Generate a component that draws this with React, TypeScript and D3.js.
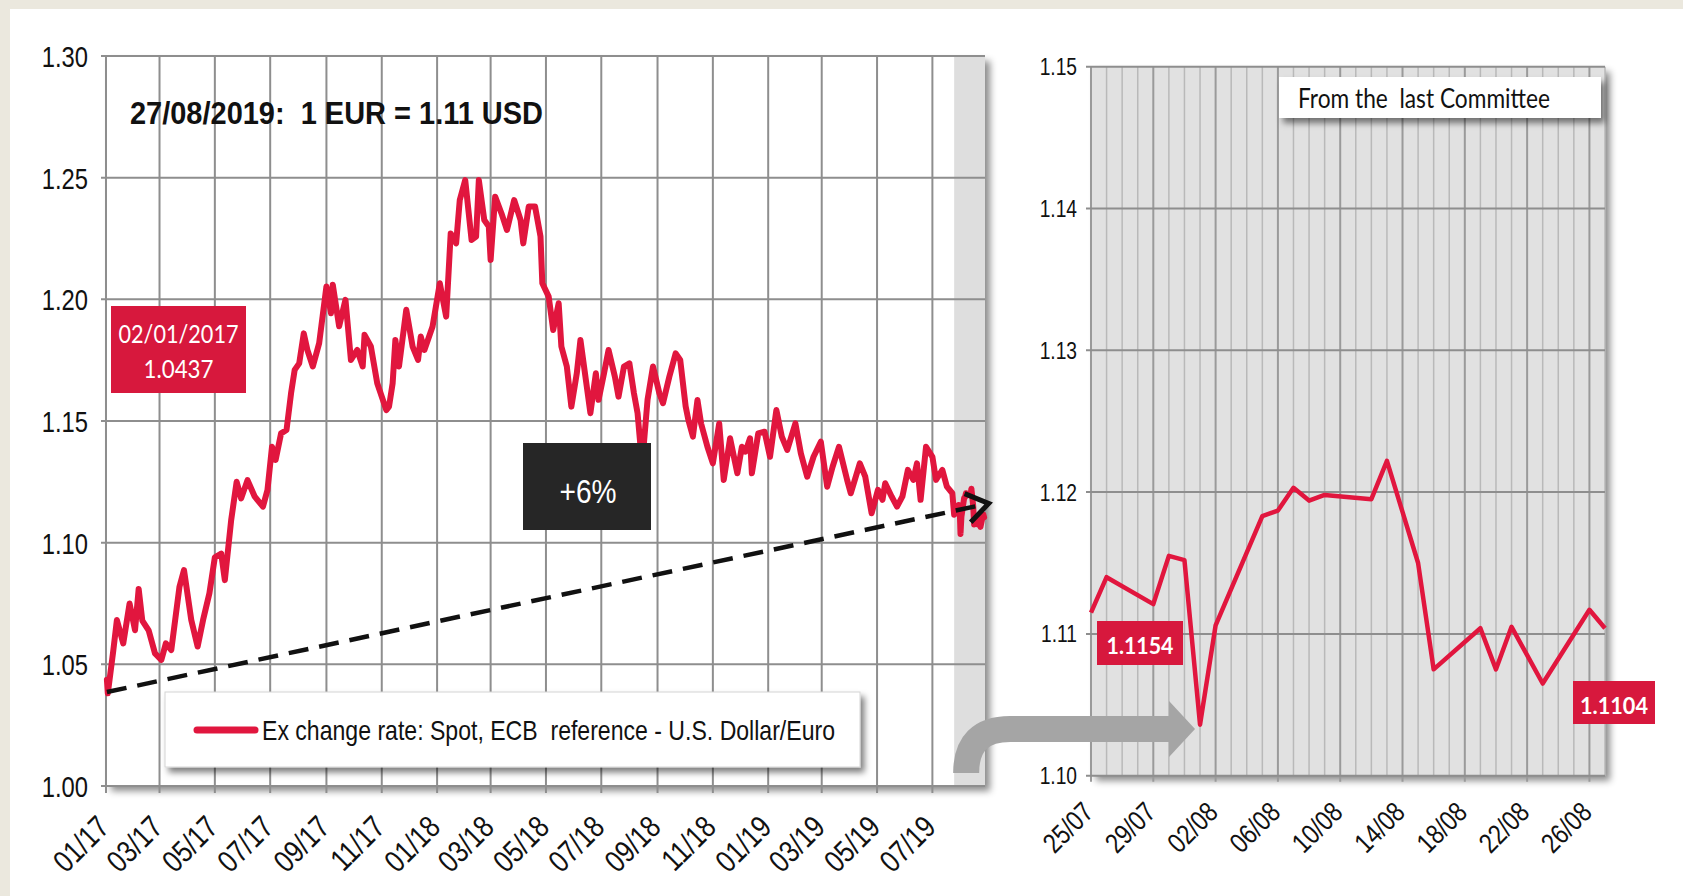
import React, { useEffect } from 'react';
import * as d3 from 'd3';

const W = 1683;
const H = 896;
const parse = d3.timeParse('%Y-%m-%d');

// ---- Left chart: EUR/USD spot (ECB reference) ----
const spotDates = [
  '2017-01-02','2017-01-03','2017-01-09','2017-01-13','2017-01-20','2017-01-27','2017-02-02','2017-02-06','2017-02-10','2017-02-17',
  '2017-02-24','2017-03-03','2017-03-08','2017-03-14','2017-03-23','2017-03-28','2017-04-05','2017-04-12','2017-04-18','2017-04-25',
  '2017-05-01','2017-05-08','2017-05-12','2017-05-19','2017-05-25','2017-05-30','2017-06-06','2017-06-14','2017-06-23','2017-06-28',
  '2017-07-03','2017-07-07','2017-07-13','2017-07-19','2017-07-24','2017-07-28','2017-08-02','2017-08-07','2017-08-11','2017-08-17',
  '2017-08-24','2017-09-01','2017-09-06','2017-09-08','2017-09-15','2017-09-22','2017-09-28','2017-10-05','2017-10-11','2017-10-13',
  '2017-10-20','2017-10-27','2017-11-06','2017-11-09','2017-11-13','2017-11-16','2017-11-20','2017-11-28','2017-12-05','2017-12-11',
  '2017-12-14','2017-12-18','2017-12-27','2018-01-04','2018-01-11','2018-01-16','2018-01-22','2018-01-26','2018-02-01','2018-02-08',
  '2018-02-13','2018-02-16','2018-02-22','2018-02-27','2018-03-01','2018-03-06','2018-03-13','2018-03-19','2018-03-27','2018-04-03',
  '2018-04-06','2018-04-12','2018-04-19','2018-04-25','2018-04-27','2018-05-04','2018-05-09','2018-05-15','2018-05-18','2018-05-24',
  '2018-05-29','2018-06-04','2018-06-08','2018-06-14','2018-06-19','2018-06-25','2018-06-28','2018-07-04','2018-07-09','2018-07-16',
  '2018-07-20','2018-07-26','2018-08-01','2018-08-06','2018-08-10','2018-08-15','2018-08-21','2018-08-27','2018-09-03','2018-09-07',
  '2018-09-14','2018-09-21','2018-09-26','2018-10-02','2018-10-05','2018-10-10','2018-10-15','2018-10-19','2018-10-26','2018-11-01',
  '2018-11-08','2018-11-13','2018-11-20','2018-11-28','2018-12-03','2018-12-07','2018-12-12','2018-12-14','2018-12-21','2018-12-28',
  '2019-01-03','2019-01-10','2019-01-16','2019-01-22','2019-01-31','2019-02-06','2019-02-13','2019-02-20','2019-02-28','2019-03-07',
  '2019-03-13','2019-03-20','2019-03-29','2019-04-02','2019-04-12','2019-04-18','2019-04-25','2019-05-02','2019-05-07','2019-05-10',
  '2019-05-17','2019-05-23','2019-05-29','2019-06-04','2019-06-10','2019-06-14','2019-06-18','2019-06-24','2019-07-01','2019-07-05',
  '2019-07-12','2019-07-17','2019-07-23'
];
const spotValues = [
  1.0437,1.0381,1.0555,1.0682,1.0586,1.0750,1.0640,1.0810,1.0680,1.0640,
  1.0545,1.0518,1.0586,1.0559,1.0819,1.0887,1.0682,1.0573,1.0682,1.0792,
  1.0940,1.0955,1.0846,1.1093,1.1250,1.1182,1.1257,1.1189,1.1148,1.1216,
  1.1394,1.1340,1.1449,1.1463,1.1614,1.1710,1.1737,1.1860,1.1792,1.1724,
  1.1820,1.2053,1.1943,1.2060,1.1889,1.1998,1.1751,1.1792,1.1724,1.1854,
  1.1806,1.1655,1.1545,1.1559,1.1655,1.1833,1.1724,1.1957,1.1806,1.1751,
  1.1847,1.1792,1.1888,1.2066,1.1929,1.2271,1.2230,1.2408,1.2490,1.2244,
  1.2258,1.2490,1.2326,1.2299,1.2162,1.2422,1.2353,1.2285,1.2408,1.2326,
  1.2230,1.2381,1.2381,1.2258,1.2066,1.2011,1.1874,1.1984,1.1806,1.1724,
  1.1559,1.1696,1.1833,1.1669,1.1532,1.1696,1.1587,1.1696,1.1792,1.1682,
  1.1600,1.1724,1.1737,1.1614,1.1532,1.1320,1.1587,1.1724,1.1614,1.1573,
  1.1682,1.1778,1.1751,1.1560,1.1504,1.1436,1.1586,1.1490,1.1394,1.1326,
  1.1490,1.1258,1.1429,1.1285,1.1394,1.1374,1.1429,1.1285,1.1449,1.1456,
  1.1353,1.1545,1.1436,1.1381,1.1490,1.1367,1.1271,1.1353,1.1415,1.1230,
  1.1312,1.1394,1.1258,1.1203,1.1326,1.1271,1.1121,1.1217,1.1176,1.1244,
  1.1190,1.1148,1.1190,1.1299,1.1258,1.1326,1.1176,1.1394,1.1353,1.1258,
  1.1299,1.1230,1.1203
];

// ---- Right chart: daily values since the last Committee ----
const recentDates = [
  '2019-07-25','2019-07-26','2019-07-29','2019-07-30','2019-07-31','2019-08-01','2019-08-02','2019-08-05',
  '2019-08-06','2019-08-07','2019-08-08','2019-08-09','2019-08-12','2019-08-13','2019-08-14','2019-08-15',
  '2019-08-16','2019-08-19','2019-08-20','2019-08-21','2019-08-22','2019-08-23','2019-08-26','2019-08-27'
];
const recentValues = [
  1.1115,1.1140,1.1121,1.1155,1.1152,1.1036,1.1106,1.1183,
  1.1187,1.1203,1.1194,1.1198,1.1195,1.1222,1.1186,1.1150,
  1.1075,1.1104,1.1075,1.1105,1.1085,1.1065,1.1117,1.1104
];

const leftYTicks = [1.0, 1.05, 1.1, 1.15, 1.2, 1.25, 1.3];
const leftXTickLabels = ['01/17','03/17','05/17','07/17','09/17','11/17','01/18','03/18','05/18','07/18','09/18','11/18','01/19','03/19','05/19','07/19'];
const rightYTicks = [1.1, 1.11, 1.12, 1.13, 1.14, 1.15];
const rightXTickLabels = ['25/07','29/07','02/08','06/08','10/08','14/08','18/08','22/08','26/08'];

const trendDates = ['2017-01-02', '2019-09-01'];
const trendValues = [1.0386, 1.1161];

const leftDomain = ['2017-01-01', '2019-08-28'];
const rightDomain = ['2019-07-25', '2019-08-27'];
const committeeDate = '2019-07-25';

const headline = '27/08/2019:  1 EUR = 1.11 USD';
const legendLabel = 'Ex change rate: Spot, ECB  reference - U.S. Dollar/Euro';
const firstDateLabel = '02/01/2017';
const firstValueLabel = '1.0437';
const changeLabel = '+6%';
const committeeLabel = 'From the  last Committee';
const startValueLabel = '1.1154';
const endValueLabel = '1.1104';

const RED = '#e1163e';
const BOX_RED = '#d7183d';
const GRID = '#8e8e8e';
const NARROW = "'Liberation Sans', Arial, sans-serif";
const CAL = "Lato, 'Open Sans', sans-serif";

function NText({ x, y, sx = 0.82, rot = 0, anchor = 'start', size, weight = 'normal', fill = '#111', children }: any) {
  return (
    <text
      transform={`translate(${x},${y}) rotate(${rot}) scale(${sx},1)`}
      textAnchor={anchor}
      fontFamily={NARROW}
      fontSize={size}
      fontWeight={weight}
      fill={fill}
      style={{ whiteSpace: 'pre' }}
    >
      {children}
    </text>
  );
}

export default function App() {
  useEffect(() => {
    document.body.style.margin = '0';
  }, []);

  // Left scales
  const xL = d3.scaleTime().domain(leftDomain.map((d) => parse(d) as Date)).range([106, 985]);
  const yL = d3.scaleLinear().domain([1.0, 1.3]).range([786, 56]);
  const lx0 = xL.range()[0], lx1 = xL.range()[1];
  const ly0 = yL.range()[0], ly1 = yL.range()[1];

  // Right scales
  const xR = d3.scaleTime().domain(rightDomain.map((d) => parse(d) as Date)).range([1091, 1605]);
  const yR = d3.scaleLinear().domain([1.1, 1.15]).range([775.7, 66.7]);
  const rx0 = xR.range()[0], rx1 = xR.range()[1];
  const ry0 = yR.range()[0], ry1 = yR.range()[1];

  const leftSeries = spotDates.map((d, i) => ({ d: parse(d) as Date, v: spotValues[i] }))
    .concat(recentDates.map((d, i) => ({ d: parse(d) as Date, v: recentValues[i] })));
  const rightSeries = recentDates.map((d, i) => ({ d: parse(d) as Date, v: recentValues[i] }));

  const lineL = d3.line<any>().x((p) => xL(p.d)).y((p) => yL(p.v));
  const lineR = d3.line<any>().x((p) => xR(p.d)).y((p) => yR(p.v));

  const leftTickDates = leftXTickLabels.map((s) => {
    const [m, y] = s.split('/').map(Number);
    return new Date(2000 + y, m - 1, 1);
  });
  const rightTickDates = rightXTickLabels.map((s) => {
    const [dd, mm] = s.split('/').map(Number);
    return new Date(2019, mm - 1, dd);
  });
  const rd = xR.domain();
  const days = d3.timeDay.range(rd[0], d3.timeDay.offset(rd[1], 1));
  const majorSet = new Set(rightTickDates.map((d) => +d));

  // trend line + chevron
  const tx0 = xL(parse(trendDates[0]) as Date), ty0 = yL(trendValues[0]);
  const tx1 = xL(parse(trendDates[1]) as Date), ty1 = yL(trendValues[1]);
  const ang = Math.atan2(ty1 - ty0, tx1 - tx0);
  const arm = 26, spread = 0.6;
  const a1 = [tx1 - arm * Math.cos(ang - spread), ty1 - arm * Math.sin(ang - spread)];
  const a2 = [tx1 - arm * Math.cos(ang + spread), ty1 - arm * Math.sin(ang + spread)];

  const bandX = xL(parse(committeeDate) as Date);

  // curved grey arrow (from the band of the left chart to the dip of the right chart)
  const dipIdx = recentValues.indexOf(d3.min(recentValues) as number);
  const tipX = xR(parse(recentDates[dipIdx]) as Date) - 5;
  const arrowY = 729;
  const startX = bandX + 12;
  const arrowPath = `M ${startX} 773 Q ${startX} ${arrowY} ${startX + 44} ${arrowY} L ${tipX - 24} ${arrowY}`;

  return (
    <svg width={W} height={H} style={{ position: 'absolute', left: 0, top: 0, display: 'block' }}>
      <defs>
        <filter id="sh" x="-5%" y="-5%" width="115%" height="115%">
          <feDropShadow dx="5" dy="5" stdDeviation="3.5" floodColor="#000" floodOpacity="0.45" />
        </filter>
        <filter id="sh2" x="-10%" y="-20%" width="125%" height="160%">
          <feDropShadow dx="4" dy="5" stdDeviation="3" floodColor="#000" floodOpacity="0.5" />
        </filter>
      </defs>
      <rect x={0} y={0} width={W} height={H} fill="#ebe8de" />
      <rect x={10} y={9} width={W - 10} height={H - 9} fill="#ffffff" />

      {/* ================= LEFT CHART ================= */}
      <rect x={lx0} y={ly1} width={lx1 - lx0} height={ly0 - ly1} fill="#fff" filter="url(#sh)" />
      <rect x={bandX} y={ly1} width={lx1 - bandX} height={ly0 - ly1} fill="#dedede" />
      {leftYTicks.map((t) => (
        <line key={'hy' + t} x1={lx0 - 5} x2={lx1} y1={yL(t)} y2={yL(t)} stroke={GRID} strokeWidth={2} />
      ))}
      {leftTickDates.map((d, i) => (
        <line key={'vx' + i} x1={xL(d)} x2={xL(d)} y1={ly1} y2={ly0 + 7} stroke={GRID} strokeWidth={2} />
      ))}
      {leftYTicks.map((t) => (
        <NText key={'ly' + t} x={88} y={yL(t) + 11} anchor="end" size={29} sx={0.82}>{t.toFixed(2)}</NText>
      ))}
      {leftTickDates.map((d, i) => (
        <NText key={'lx' + i} x={xL(d) + 5} y={829} rot={-45} anchor="end" size={31} sx={0.82}>{leftXTickLabels[i]}</NText>
      ))}

      <path d={lineL(leftSeries) as string} fill="none" stroke={RED} strokeWidth={6} strokeLinejoin="round" strokeLinecap="round" />

      <line x1={tx0} y1={ty0} x2={tx1} y2={ty1} stroke="#111" strokeWidth={4.5} strokeDasharray="20 11" />
      <polyline points={`${a1[0]},${a1[1]} ${tx1},${ty1} ${a2[0]},${a2[1]}`} fill="none" stroke="#111" strokeWidth={5} />

      <text x={130} y={124} fontFamily={NARROW} fontWeight="bold" fontSize={31} fill="#111" textLength={413} lengthAdjust="spacingAndGlyphs" style={{ whiteSpace: 'pre' }}>{headline}</text>

      {/* first value label */}
      <rect x={111} y={306} width={135} height={87} fill={BOX_RED} />
      <text x={178.5} y={343} textAnchor="middle" fontFamily={CAL} fontSize={25} fill="#fff" textLength={120} lengthAdjust="spacingAndGlyphs">{firstDateLabel}</text>
      <text x={178.5} y={378} textAnchor="middle" fontFamily={CAL} fontSize={25} fill="#fff" textLength={70} lengthAdjust="spacingAndGlyphs">{firstValueLabel}</text>

      {/* +6% box */}
      <rect x={523} y={443} width={128} height={87} fill="#262626" />
      <text x={588} y={503} textAnchor="middle" fontFamily={NARROW} fontSize={34} fill="#fff" textLength={57} lengthAdjust="spacingAndGlyphs">{changeLabel}</text>

      {/* legend */}
      <rect x={165} y={692} width={695} height={75} fill="#fff" stroke="#d4d4d4" strokeWidth={1} filter="url(#sh2)" />
      <line x1={197} x2={255} y1={730} y2={730} stroke={RED} strokeWidth={7} strokeLinecap="round" />
      <text x={262} y={740} fontFamily={NARROW} fontSize={28} fill="#111" textLength={573} lengthAdjust="spacingAndGlyphs" style={{ whiteSpace: 'pre' }}>{legendLabel}</text>

      {/* ================= RIGHT CHART ================= */}
      <rect x={rx0} y={ry1} width={rx1 - rx0} height={ry0 - ry1} fill="#e1e1e1" filter="url(#sh)" />
      {days.map((d, i) => {
        const major = majorSet.has(+d);
        return (
          <line key={'dd' + i} x1={xR(d)} x2={xR(d)} y1={ry1} y2={major ? ry0 + 6 : ry0}
            stroke={major ? '#9a9a9a' : '#b9b9b9'} strokeWidth={major ? 2 : 1.5} />
        );
      })}
      {rightYTicks.map((t) => (
        <line key={'ry' + t} x1={rx0 - 5} x2={rx1} y1={yR(t)} y2={yR(t)} stroke={GRID} strokeWidth={2} />
      ))}
      {rightYTicks.map((t) => (
        <NText key={'ryl' + t} x={1077} y={yR(t) + 8.5} anchor="end" size={24} sx={0.8}>{t.toFixed(2)}</NText>
      ))}
      {rightTickDates.map((d, i) => (
        <NText key={'rxl' + i} x={xR(d) + 4} y={814} rot={-45} anchor="end" size={28} sx={0.82}>{rightXTickLabels[i]}</NText>
      ))}

      <path d={lineR(rightSeries) as string} fill="none" stroke={RED} strokeWidth={4.5} strokeLinejoin="round" />

      {/* committee box */}
      <rect x={1279} y={77} width={322} height={41} fill="#fff" filter="url(#sh2)" />
      <text x={1298} y={108} fontFamily={CAL} fontSize={26} fill="#111" textLength={252} lengthAdjust="spacingAndGlyphs" style={{ whiteSpace: 'pre' }}>{committeeLabel}</text>

      <rect x={1097} y={621} width={86} height={44} fill={BOX_RED} />
      <text x={1140} y={654} textAnchor="middle" fontFamily={CAL} fontWeight="bold" fontSize={23} fill="#fff" textLength={67} lengthAdjust="spacingAndGlyphs">{startValueLabel}</text>
      <rect x={1573} y={681} width={82} height={43} fill={BOX_RED} />
      <text x={1614} y={714} textAnchor="middle" fontFamily={CAL} fontWeight="bold" fontSize={23} fill="#fff" textLength={68} lengthAdjust="spacingAndGlyphs">{endValueLabel}</text>

      {/* grey connecting arrow */}
      <path d={arrowPath} fill="none" stroke="#a5a5a5" strokeWidth={26} />
      <polygon points={`${tipX - 26},${arrowY - 28} ${tipX},${arrowY} ${tipX - 26},${arrowY + 28}`} fill="#a5a5a5" />
    </svg>
  );
}
